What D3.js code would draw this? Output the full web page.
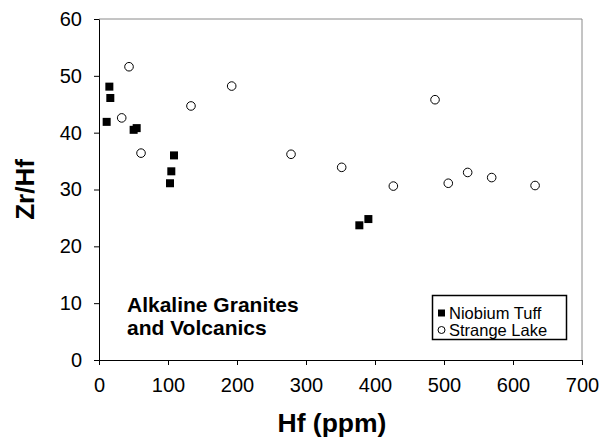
<!DOCTYPE html>
<html>
<head>
<meta charset="utf-8">
<script src="https://cdn.jsdelivr.net/npm/d3@7"></script>
<style>
  body { margin: 0; background: #fff; }
  svg { display: block; font-family: "Liberation Sans", Arial, sans-serif; }
</style>
</head>
<body>
<svg id="chart"></svg>
<script>
// Niobium Tuff (filled squares)
const tuffHf = [15, 16.4, 11.1, 50.2, 54.6, 108.7, 104.8, 102.9, 377.3, 390.4];
const tuffZrHf = [48.1, 46.1, 41.9, 40.5, 40.8, 36.0, 33.2, 31.1, 23.7, 24.8];

// Strange Lake (open circles)
const lakeHf = [43.5, 32.9, 60.9, 133.3, 192.3, 278.3, 351.7, 426.6, 487, 506.2, 534.3, 569.1, 632];
const lakeZrHf = [51.6, 42.6, 36.4, 44.7, 48.2, 36.2, 33.9, 30.6, 45.8, 31.1, 33.0, 32.1, 30.7];

const xTicks = [0, 100, 200, 300, 400, 500, 600, 700];
const yTicks = [0, 10, 20, 30, 40, 50, 60];
const seriesNames = ["Niobium Tuff", "Strange Lake"];
const noteLines = ["Alkaline Granites", "and Volcanics"];

const width = 603;
const height = 439;
const margin = { left: 99, right: 21, top: 19, bottom: 79 };

const svg = d3.select("#chart").attr("width", width).attr("height", height);

const x = d3.scaleLinear().domain([0, 700]).range([margin.left, width - margin.right]);
const y = d3.scaleLinear().domain([0, 60]).range([height - margin.bottom, margin.top]);

// frame: light top/right border
svg.append("path")
    .attr("d", `M${x(0)},${y(60)}H${x(700)}V${y(0)}`)
    .attr("fill", "none")
    .attr("stroke", "#8a8a8a")
    .attr("stroke-width", 1);

// x axis
const xAxis = svg.append("g")
    .attr("transform", `translate(0, ${y(0)})`)
    .call(d3.axisBottom(x).tickValues(xTicks).tickSize(5).tickPadding(13).tickSizeOuter(0));
xAxis.selectAll("text").attr("font-size", 20).attr("font-family", "Liberation Sans, Arial, sans-serif").attr("fill", "#000");
xAxis.selectAll("line, path").attr("stroke", "#000");

// y axis
const yAxis = svg.append("g")
    .attr("transform", `translate(${x(0)}, 0)`)
    .call(d3.axisLeft(y).tickValues(yTicks).tickSize(5).tickPadding(12).tickSizeOuter(0));
yAxis.selectAll("text").attr("font-size", 20).attr("font-family", "Liberation Sans, Arial, sans-serif").attr("fill", "#000");
yAxis.selectAll("line, path").attr("stroke", "#000");

// axis titles
svg.append("text")
    .attr("x", 332)
    .attr("y", 432)
    .attr("text-anchor", "middle")
    .attr("font-weight", "bold")
    .attr("font-size", 26.5)
    .text("Hf (ppm)");

svg.append("text")
    .attr("transform", `translate(34, ${(y(0) + y(60)) / 2}) rotate(-90)`)
    .attr("text-anchor", "middle")
    .attr("font-weight", "bold")
    .attr("font-size", 26)
    .text("Zr/Hf");

// points
const tuff = tuffHf.map((v, i) => ({ hf: v, r: tuffZrHf[i] }));
const lake = lakeHf.map((v, i) => ({ hf: v, r: lakeZrHf[i] }));

svg.append("g").selectAll("rect")
    .data(tuff)
    .join("rect")
    .attr("x", d => x(d.hf) - 4)
    .attr("y", d => y(d.r) - 4)
    .attr("width", 8)
    .attr("height", 8)
    .attr("fill", "#000");

svg.append("g").selectAll("circle")
    .data(lake)
    .join("circle")
    .attr("cx", d => x(d.hf))
    .attr("cy", d => y(d.r))
    .attr("r", 4.3)
    .attr("fill", "#fff")
    .attr("stroke", "#000")
    .attr("stroke-width", 1);

// note
svg.append("g").selectAll("text")
    .data(noteLines)
    .join("text")
    .attr("x", 127)
    .attr("y", (d, i) => 312 + i * 23)
    .attr("font-weight", "bold")
    .attr("font-size", 21)
    .text(d => d);

// legend
const legend = svg.append("g");
legend.append("rect")
    .attr("x", 432.5)
    .attr("y", 295.5)
    .attr("width", 134)
    .attr("height", 44)
    .attr("fill", "#fff")
    .attr("stroke", "#000")
    .attr("stroke-width", 1.5);

seriesNames.forEach((name, i) => {
    const cy = 313 + i * 17;
    if (i === 0) {
        legend.append("rect").attr("x", 438).attr("y", cy - 3.5).attr("width", 7).attr("height", 7).attr("fill", "#000");
    } else {
        legend.append("circle").attr("cx", 441.5).attr("cy", cy).attr("r", 3.5).attr("fill", "#fff").attr("stroke", "#000");
    }
    legend.append("text")
        .attr("x", 449)
        .attr("y", cy + 6)
        .attr("font-size", 16.5)
        .text(name);
});
</script>
</body>
</html>
